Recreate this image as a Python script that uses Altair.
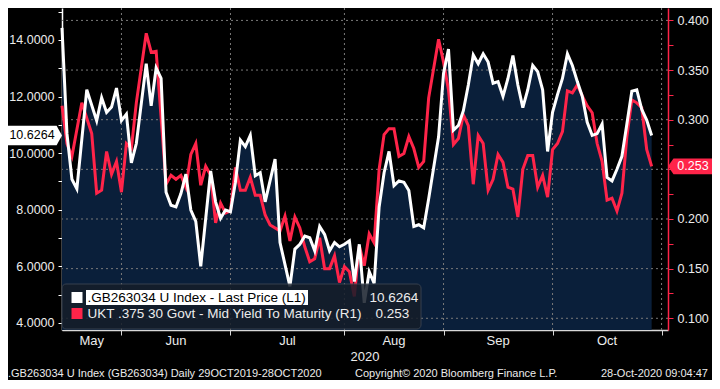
import altair as alt
import pandas as pd

# ---------------- data ----------------
# x = trading-day index (0 = mid-May 2020), month starts on the trading-day axis
white_day = ([0, 1, 2, 3, 5, 7, 8, 9, 10, 11, 12, 13, 14, 15, 17, 18, 19, 20, 21, 22, 23,
              24, 25, 26, 27, 28, 30, 31, 32, 33, 34, 35, 36, 37, 38, 39, 40, 41, 43, 44, 46, 47]
             + list(range(48, 75)) + list(range(76, 120)))
white_val = [14.43, 10.69, 9.08, 8.74, 12.24, 11.15, 11.96, 11.44, 11.63, 12.30, 11.15, 11.38,
             9.66, 10.34, 13.16, 11.67, 13.01, 12.64, 8.62, 8.16, 8.10, 8.57, 9.26, 7.99, 7.59,
             6.00, 9.37, 8.28, 7.70, 7.99, 7.93, 8.97, 10.46, 10.23, 10.63, 9.20, 9.31, 8.28,
             9.79, 6.84, 5.29, 6.61,
             6.78, 7.07, 7.01, 6.55, 7.41, 7.13, 6.55, 6.84, 6.69, 6.78, 6.90, 5.46, 6.78, 4.71,
             5.81, 5.40, 8.10, 9.31, 10.06, 8.85, 9.02, 8.97, 8.68, 7.41, 7.47, 7.36, 8.39,
             10.58, 12.82, 13.68, 10.81, 10.98, 11.50, 12.41, 13.47, 13.16, 13.51, 13.22, 12.47,
             12.53, 12.01, 12.64, 13.45, 12.41, 11.61, 12.24, 13.10, 12.88, 12.24, 10.06, 11.44,
             12.07, 12.64, 13.51, 13.10, 12.53, 12.01, 11.09, 10.63, 10.69, 11.03, 9.14, 9.02,
             9.43, 9.89, 11.03, 12.19, 12.24, 11.55, 11.17, 10.6264]

red_day = ([0, 1, 2, 4, 6] + list(range(7, 16)) + list(range(17, 20)) + list(range(21, 43))
           + list(range(44, 75)) + list(range(76, 120)))
red_val = [0.314, 0.276, 0.263, 0.317, 0.286,
           0.226, 0.229, 0.268, 0.245, 0.258, 0.227, 0.276, 0.271, 0.317,
           0.387, 0.368, 0.369,
           0.235, 0.244, 0.240, 0.244, 0.232, 0.265, 0.276, 0.234, 0.253, 0.244, 0.196, 0.216,
           0.206, 0.208, 0.252, 0.229, 0.229, 0.242, 0.224, 0.224, 0.204, 0.194,
           0.188, 0.203, 0.178, 0.202, 0.191, 0.172, 0.157, 0.160, 0.181, 0.150, 0.150, 0.163,
           0.136, 0.152, 0.147, 0.122, 0.173, 0.153, 0.185, 0.176, 0.250, 0.285, 0.291, 0.291,
           0.263, 0.266, 0.283, 0.271, 0.252, 0.258, 0.322,
           0.381, 0.358, 0.330, 0.275, 0.281, 0.305, 0.294, 0.235, 0.284, 0.276, 0.229, 0.240,
           0.265, 0.257, 0.232, 0.230, 0.202, 0.250, 0.264, 0.264, 0.232, 0.244, 0.222, 0.270,
           0.276, 0.288, 0.329, 0.327, 0.335, 0.324, 0.314, 0.307, 0.276, 0.258, 0.219, 0.221,
           0.208, 0.226, 0.283, 0.320, 0.317, 0.312, 0.270, 0.253]

month_start = [12, 34, 57, 77, 99, 121]          # Jun 1 ... Nov 1 on the trading-day axis
month_names = ["May", "Jun", "Jul", "Aug", "Sep", "Oct"]
year_label = "2020"
left_ticks = [4, 5, 6, 7, 8, 9, 10, 11, 12, 13, 14, 15]
right_ticks = [0.100, 0.125, 0.150, 0.175, 0.200, 0.225, 0.250, 0.275, 0.300, 0.325,
               0.350, 0.375, 0.400]
right_grid = [0.10, 0.15, 0.20, 0.25, 0.30, 0.35, 0.40]
series_names = [".GB263034 U Index - Last Price (L1)",
                "UKT .375 30 Govt - Mid Yield To Maturity (R1)"]
last_labels = ["10.6264", "0.253"]
white_last = 10.6264
red_last = 0.253
footer_left = ".GB263034 U Index (GB263034)  Daily 29OCT2019-28OCT2020"
footer_mid = "Copyright\u00a9 2020 Bloomberg Finance L.P."
footer_right = "28-Oct-2020 09:04:47"

# ---------------- layout / style ----------------
W, H = 606, 322
XD = [0, 122.3]
LD = [3.75, 15.13]
RD = [0.0882, 0.4125]
NAVY = "#0a1f3a"
RED = "#ff2449"
WHITE = "#ffffff"
GRID = "#7a7a7a"
TXT = "#ececec"
FONT = "Liberation Sans"

white_df = pd.DataFrame({"day": white_day, "v": white_val})
red_df = pd.DataFrame({"day": red_day, "v": red_val})
bounds = [0] + month_start
month_df = pd.DataFrame({
    "name": month_names,
    "mid": [(bounds[i] + bounds[i + 1]) / 2 for i in range(len(month_names))],
})
ms_df = pd.DataFrame({"day": month_start})
hg_df = pd.DataFrame({"g": right_grid})
one = pd.DataFrame({"a": [0]})

xaxis = alt.Axis(values=month_start, labels=False, ticks=True, tickSize=5,
                 tickColor="#d8d8d8", domainColor="#d8d8d8", domainWidth=1.5,
                 grid=False, title=None)
xs = alt.Scale(domain=XD, nice=False, zero=False)
x_enc = alt.X("day:Q", scale=xs, axis=xaxis)

ls = alt.Scale(domain=LD, nice=False, zero=False)
rs = alt.Scale(domain=RD, nice=False, zero=False)

left_axis = alt.Axis(orient="left", values=left_ticks,
                     labelExpr="datum.value % 2 == 0 ? format(datum.value, '.4f') : ''",
                     tickSize=4, tickColor=WHITE, domainColor=WHITE, domainWidth=1.5,
                     labelColor=TXT, labelFont=FONT, labelFontSize=12.5, labelPadding=4,
                     labelOverlap=False, grid=False, title=None)
# the 0.250 label sits under the last-value marker in the reference
right_axis = alt.Axis(orient="right", values=right_ticks,
                      labelExpr="(round(datum.value * 1000) % 50 == 0 && round(datum.value * 1000) != 250) ? format(datum.value, '.3f') : ''",
                      tickSize=5, tickColor=RED, domainColor=RED, domainWidth=1.5,
                      labelColor=TXT, labelFont=FONT, labelFontSize=12.5, labelPadding=4,
                      labelOverlap=False, grid=False, title=None)

area = alt.Chart(white_df).mark_area(color=NAVY).encode(
    x=x_enc,
    y=alt.Y("v:Q", scale=ls, axis=left_axis),
    y2=alt.datum(LD[0]),
)

vgrid = alt.Chart(ms_df).mark_rule(color=GRID, strokeDash=[2, 3], strokeWidth=1).encode(
    x=x_enc,
)
hgrid = alt.Chart(hg_df).mark_rule(color=GRID, strokeDash=[2, 3], strokeWidth=1).encode(
    y=alt.Y("g:Q", scale=rs, axis=None),
)

red_line = alt.Chart(red_df).mark_line(color=RED, strokeWidth=3, strokeJoin="miter").encode(
    x=x_enc,
    y=alt.Y("v:Q", scale=rs, axis=right_axis),
)
white_line = alt.Chart(white_df).mark_line(color=WHITE, strokeWidth=3, strokeJoin="miter").encode(
    x=x_enc,
    y=alt.Y("v:Q", scale=ls, axis=None),
)

# ----- custom legend box -----
leg_box = alt.Chart(one).mark_rect(fill="#151d29", opacity=0.85, stroke="#3e4652",
                                   strokeWidth=1, cornerRadius=4).encode(
    x=alt.value(0), x2=alt.value(359), y=alt.value(276), y2=alt.value(321))
leg_hl = alt.Chart(one).mark_rect(fill=WHITE).encode(
    x=alt.value(24), x2=alt.value(246), y=alt.value(282), y2=alt.value(297))
leg_df = pd.DataFrame({
    "name": series_names,
    "val": last_labels,
    "col": [WHITE, RED],
    "tcol": ["#000000", TXT],
    "yc": [289.5, 305.5],
    "vx": [307.5, 313.5],
})
leg_sw = alt.Chart(leg_df).mark_square(size=121, opacity=1).encode(
    x=alt.value(15), y=alt.Y("yc:Q", scale=None),
    color=alt.Color("col:N", scale=None), fill=alt.Fill("col:N", scale=None))
leg_txt = alt.Chart(leg_df).mark_text(align="left", baseline="middle", font=FONT,
                                      fontSize=13.5).encode(
    x=alt.value(25.5), y=alt.Y("yc:Q", scale=None), text="name:N",
    color=alt.Color("tcol:N", scale=None))
leg_val = alt.Chart(leg_df).mark_text(align="left", baseline="middle", font=FONT,
                                      fontSize=13.5, color=TXT).encode(
    x=alt.X("vx:Q", scale=None), y=alt.Y("yc:Q", scale=None), text="val:N")

# ----- last value markers on the axes -----
mk_l_df = pd.DataFrame({"v": [white_last], "t": [last_labels[0]]})
mk_r_df = pd.DataFrame({"v": [red_last], "t": [last_labels[1]]})
mk_l = alt.Chart(mk_l_df).mark_point(
    shape="M 1 0 L 0.8 -0.36 L -1 -0.36 L -1 0.36 L 0.8 0.36 Z",
    size=2916, filled=True, fill=WHITE, strokeWidth=0, opacity=1).encode(
    x=alt.value(-27), y=alt.Y("v:Q", scale=ls, axis=None))
mk_l_t = alt.Chart(mk_l_df).mark_text(align="center", baseline="middle", font=FONT,
                                      fontSize=12.5, color="#000000").encode(
    x=alt.value(-30), y=alt.Y("v:Q", scale=ls, axis=None), text="t:N")
mk_r = alt.Chart(mk_r_df).mark_point(
    shape="M -1 0 L -0.75 -0.36 L 1 -0.36 L 1 0.36 L -0.75 0.36 Z",
    size=1936, filled=True, fill=RED, strokeWidth=0, opacity=1).encode(
    x=alt.value(W + 22), y=alt.Y("v:Q", scale=rs, axis=None))
mk_r_t = alt.Chart(mk_r_df).mark_text(align="center", baseline="middle", font=FONT,
                                      fontSize=12.5, color=WHITE).encode(
    x=alt.value(W + 25), y=alt.Y("v:Q", scale=rs, axis=None), text="t:N")

# ----- month labels, year, footer -----
months = alt.Chart(month_df).mark_text(baseline="middle", font=FONT, fontSize=13,
                                       color=TXT).encode(
    x=alt.X("mid:Q", scale=xs, axis=xaxis), y=alt.value(H + 11), text="name:N")
foot_df = pd.DataFrame({
    "t": [year_label, footer_left, footer_mid, footer_right],
    "x": [W / 2, -54, 293, 646],
    "y": [H + 27, H + 44, H + 44, H + 44],
})
year_t = alt.Chart(foot_df.iloc[[0]]).mark_text(align="center", baseline="middle",
                                                 font=FONT, fontSize=13, color=TXT).encode(
    x=alt.X("x:Q", scale=None), y=alt.Y("y:Q", scale=None), text="t:N")
foot_l = alt.Chart(foot_df.iloc[[1, 2]]).mark_text(align="left", baseline="middle",
                                                    font=FONT, fontSize=11, color=TXT).encode(
    x=alt.X("x:Q", scale=None), y=alt.Y("y:Q", scale=None), text="t:N")
foot_r = alt.Chart(foot_df.iloc[[3]]).mark_text(align="right", baseline="middle",
                                                 font=FONT, fontSize=11, color=TXT).encode(
    x=alt.X("x:Q", scale=None), y=alt.Y("y:Q", scale=None), text="t:N")

chart = alt.layer(
    area, vgrid, hgrid, red_line, white_line,
    leg_box, leg_hl, leg_sw, leg_txt, leg_val,
    mk_l, mk_l_t, mk_r, mk_r_t,
    months, year_t, foot_l, foot_r,
).resolve_scale(
    y="independent"
).properties(
    width=W, height=H,
    autosize=alt.AutoSizeParams(type="none"),
    padding={"left": 54, "right": 44, "top": 0, "bottom": 50},
    background="#000000",
).configure_view(
    strokeWidth=0
)

chart.save("out.html", embed_options={"renderer": "svg", "actions": False})
